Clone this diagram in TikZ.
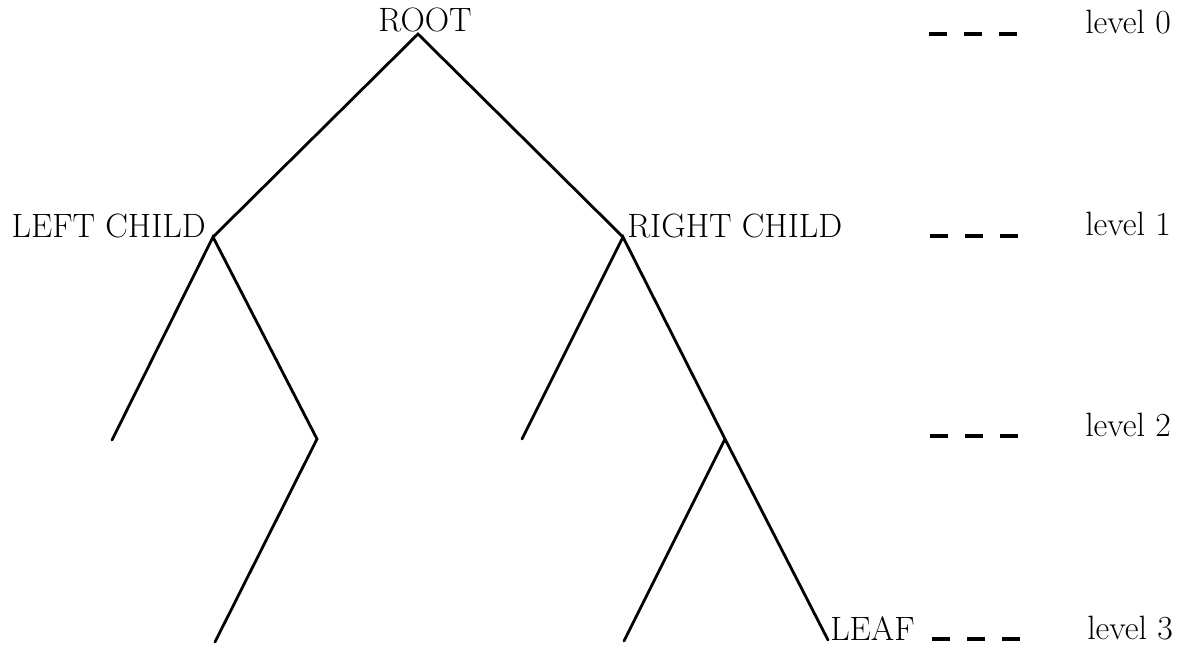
\documentclass[tikz,border=0pt]{standalone}
\begin{document}
\begin{tikzpicture}[x=0.025cm,y=-0.025cm,
  edge/.style={line width=2pt,line cap=round,line join=miter},
  lvl/.style={line width=2.2pt,dash pattern=on 0.45cm off 0.425cm},
  lab/.style={inner sep=0pt,font=\fontsize{24}{28}\selectfont}]
\useasboundingbox (0,0) rectangle (1185,647);
% junctions
\coordinate (root) at (418,34);
\coordinate (lc) at (213,237);
\coordinate (rc) at (623,237);
\coordinate (ll) at (112,440);
\coordinate (lr) at (317,439);
\coordinate (rl) at (522,439);
\coordinate (rr) at (725,439);
\coordinate (lrb) at (215,642);
\coordinate (rrl) at (624,641);
\coordinate (leaf) at (828,640);
% labels
\node[lab,anchor=base] (troot) at (425,31) {ROOT};
\node[lab,anchor=base east] (tlc) at (206,237) {LEFT CHILD};
\node[lab,anchor=base west] (trc) at (627,237) {RIGHT CHILD};
\node[lab,anchor=base west] (tleaf) at (830,640) {LEAF};
% edges
\draw[edge] (lc) -- (root) -- (rc);
\draw[edge] (ll) -- (lc) -- (lr) -- (lrb);
\draw[edge] (rl) -- (rc) -- (rr) -- (leaf);
\draw[edge] (rr) -- (rrl);
% level markers
\coordinate (d0a) at (929,34); \coordinate (d0b) at (1017,34);
\coordinate (d1a) at (930,236); \coordinate (d1b) at (1018,236);
\coordinate (d2a) at (930,436); \coordinate (d2b) at (1018,436);
\coordinate (d3a) at (932,639); \coordinate (d3b) at (1020,639);
\draw[lvl] (d0a) -- (d0b);
\draw[lvl] (d1a) -- (d1b);
\draw[lvl] (d2a) -- (d2b);
\draw[lvl] (d3a) -- (d3b);
\node[lab,anchor=base west] (l0) at (1085,33) {level 0};
\node[lab,anchor=base west] (l1) at (1085,235) {level 1};
\node[lab,anchor=base west] (l2) at (1085,436) {level 2};
\node[lab,anchor=base west] (l3) at (1087,639) {level 3};
\end{tikzpicture}
\end{document}
